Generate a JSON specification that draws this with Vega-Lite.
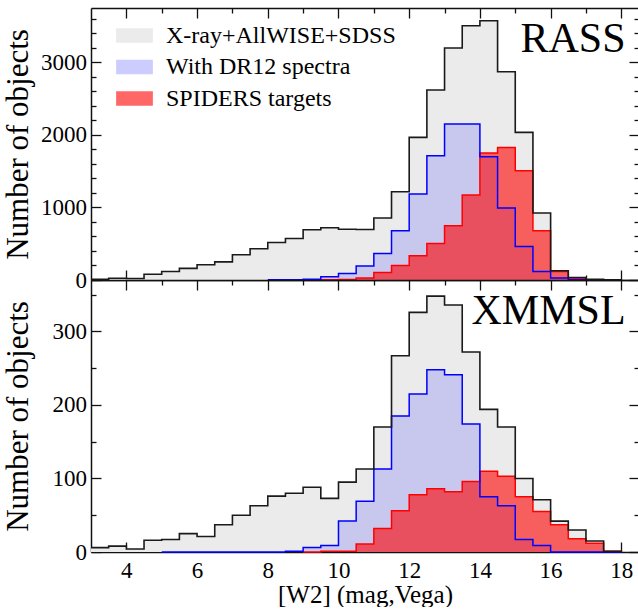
{
  "$schema": "https://vega.github.io/schema/vega-lite/v6.json",
  "padding": {"top": 7, "left": 2, "right": 0, "bottom": 0},
  "spacing": 0,
  "bounds": "flush",
  "config": {
    "font": "Liberation Serif",
    "view": {"stroke": null},
    "axis": {
      "grid": false,
      "domainColor": "#111111",
      "domainWidth": 1.5,
      "tickColor": "#111111",
      "tickWidth": 1.3,
      "labelFont": "Liberation Serif",
      "labelFontSize": 23,
      "labelColor": "black",
      "titleFont": "Liberation Serif",
      "titleFontSize": 25,
      "titleFontWeight": "normal",
      "titleColor": "black",
      "minExtent": 0,
      "format": "d"
    }
  },
  "resolve": {"scale": {"x": "independent", "y": "independent", "color": "independent"}},
  "datasets": {
    "rass": [
      {"series": "X-ray+AllWISE+SDSS", "w2": 3.0, "count": 10},
      {"series": "X-ray+AllWISE+SDSS", "w2": 3.5, "count": 25},
      {"series": "X-ray+AllWISE+SDSS", "w2": 4.0, "count": 20},
      {"series": "X-ray+AllWISE+SDSS", "w2": 4.5, "count": 80},
      {"series": "X-ray+AllWISE+SDSS", "w2": 5.0, "count": 117},
      {"series": "X-ray+AllWISE+SDSS", "w2": 5.5, "count": 160},
      {"series": "X-ray+AllWISE+SDSS", "w2": 6.0, "count": 210},
      {"series": "X-ray+AllWISE+SDSS", "w2": 6.5, "count": 250},
      {"series": "X-ray+AllWISE+SDSS", "w2": 7.0, "count": 348},
      {"series": "X-ray+AllWISE+SDSS", "w2": 7.5, "count": 430},
      {"series": "X-ray+AllWISE+SDSS", "w2": 8.0, "count": 517},
      {"series": "X-ray+AllWISE+SDSS", "w2": 8.5, "count": 573},
      {"series": "X-ray+AllWISE+SDSS", "w2": 9.0, "count": 692},
      {"series": "X-ray+AllWISE+SDSS", "w2": 9.5, "count": 720},
      {"series": "X-ray+AllWISE+SDSS", "w2": 10.0, "count": 700},
      {"series": "X-ray+AllWISE+SDSS", "w2": 10.5, "count": 697},
      {"series": "X-ray+AllWISE+SDSS", "w2": 11.0, "count": 854},
      {"series": "X-ray+AllWISE+SDSS", "w2": 11.5, "count": 1217},
      {"series": "X-ray+AllWISE+SDSS", "w2": 12.0, "count": 1966},
      {"series": "X-ray+AllWISE+SDSS", "w2": 12.5, "count": 2619},
      {"series": "X-ray+AllWISE+SDSS", "w2": 13.0, "count": 3199},
      {"series": "X-ray+AllWISE+SDSS", "w2": 13.5, "count": 3506},
      {"series": "X-ray+AllWISE+SDSS", "w2": 14.0, "count": 3575},
      {"series": "X-ray+AllWISE+SDSS", "w2": 14.5, "count": 2872},
      {"series": "X-ray+AllWISE+SDSS", "w2": 15.0, "count": 2035},
      {"series": "X-ray+AllWISE+SDSS", "w2": 15.5, "count": 923},
      {"series": "X-ray+AllWISE+SDSS", "w2": 16.0, "count": 127},
      {"series": "X-ray+AllWISE+SDSS", "w2": 16.5, "count": 35},
      {"series": "X-ray+AllWISE+SDSS", "w2": 17.0, "count": 8},
      {"series": "X-ray+AllWISE+SDSS", "w2": 17.5, "count": 2},
      {"series": "X-ray+AllWISE+SDSS", "w2": 18.0, "count": 0},
      {"series": "With DR12 spectra", "w2": 8.0, "count": 3},
      {"series": "With DR12 spectra", "w2": 8.5, "count": 5},
      {"series": "With DR12 spectra", "w2": 9.0, "count": 10},
      {"series": "With DR12 spectra", "w2": 9.5, "count": 44},
      {"series": "With DR12 spectra", "w2": 10.0, "count": 90},
      {"series": "With DR12 spectra", "w2": 10.5, "count": 192},
      {"series": "With DR12 spectra", "w2": 11.0, "count": 366},
      {"series": "With DR12 spectra", "w2": 11.5, "count": 679},
      {"series": "With DR12 spectra", "w2": 12.0, "count": 1185},
      {"series": "With DR12 spectra", "w2": 12.5, "count": 1713},
      {"series": "With DR12 spectra", "w2": 13.0, "count": 2150},
      {"series": "With DR12 spectra", "w2": 13.5, "count": 2150},
      {"series": "With DR12 spectra", "w2": 14.0, "count": 1700},
      {"series": "With DR12 spectra", "w2": 14.5, "count": 992},
      {"series": "With DR12 spectra", "w2": 15.0, "count": 462},
      {"series": "With DR12 spectra", "w2": 15.5, "count": 117},
      {"series": "With DR12 spectra", "w2": 16.0, "count": 26},
      {"series": "With DR12 spectra", "w2": 16.5, "count": 3},
      {"series": "With DR12 spectra", "w2": 17.0, "count": 0},
      {"series": "With DR12 spectra", "w2": 17.5, "count": 0},
      {"series": "With DR12 spectra", "w2": 18.0, "count": 0},
      {"series": "SPIDERS targets", "w2": 9.5, "count": 3},
      {"series": "SPIDERS targets", "w2": 10.0, "count": 8},
      {"series": "SPIDERS targets", "w2": 10.5, "count": 26},
      {"series": "SPIDERS targets", "w2": 11.0, "count": 104},
      {"series": "SPIDERS targets", "w2": 11.5, "count": 200},
      {"series": "SPIDERS targets", "w2": 12.0, "count": 334},
      {"series": "SPIDERS targets", "w2": 12.5, "count": 504},
      {"series": "SPIDERS targets", "w2": 13.0, "count": 748},
      {"series": "SPIDERS targets", "w2": 13.5, "count": 1171},
      {"series": "SPIDERS targets", "w2": 14.0, "count": 1750},
      {"series": "SPIDERS targets", "w2": 14.5, "count": 1828},
      {"series": "SPIDERS targets", "w2": 15.0, "count": 1506},
      {"series": "SPIDERS targets", "w2": 15.5, "count": 679},
      {"series": "SPIDERS targets", "w2": 16.0, "count": 117},
      {"series": "SPIDERS targets", "w2": 16.5, "count": 26},
      {"series": "SPIDERS targets", "w2": 17.0, "count": 3},
      {"series": "SPIDERS targets", "w2": 17.5, "count": 0},
      {"series": "SPIDERS targets", "w2": 18.0, "count": 0}
    ],
    "xmmsl": [
      {"series": "X-ray+AllWISE+SDSS", "w2": 3.0, "count": 6},
      {"series": "X-ray+AllWISE+SDSS", "w2": 3.5, "count": 8},
      {"series": "X-ray+AllWISE+SDSS", "w2": 4.0, "count": 4},
      {"series": "X-ray+AllWISE+SDSS", "w2": 4.5, "count": 16},
      {"series": "X-ray+AllWISE+SDSS", "w2": 5.0, "count": 17},
      {"series": "X-ray+AllWISE+SDSS", "w2": 5.5, "count": 25},
      {"series": "X-ray+AllWISE+SDSS", "w2": 6.0, "count": 21},
      {"series": "X-ray+AllWISE+SDSS", "w2": 6.5, "count": 37},
      {"series": "X-ray+AllWISE+SDSS", "w2": 7.0, "count": 50},
      {"series": "X-ray+AllWISE+SDSS", "w2": 7.5, "count": 63},
      {"series": "X-ray+AllWISE+SDSS", "w2": 8.0, "count": 76},
      {"series": "X-ray+AllWISE+SDSS", "w2": 8.5, "count": 80},
      {"series": "X-ray+AllWISE+SDSS", "w2": 9.0, "count": 88},
      {"series": "X-ray+AllWISE+SDSS", "w2": 9.5, "count": 73},
      {"series": "X-ray+AllWISE+SDSS", "w2": 10.0, "count": 95},
      {"series": "X-ray+AllWISE+SDSS", "w2": 10.5, "count": 113},
      {"series": "X-ray+AllWISE+SDSS", "w2": 11.0, "count": 170},
      {"series": "X-ray+AllWISE+SDSS", "w2": 11.5, "count": 267},
      {"series": "X-ray+AllWISE+SDSS", "w2": 12.0, "count": 326},
      {"series": "X-ray+AllWISE+SDSS", "w2": 12.5, "count": 348},
      {"series": "X-ray+AllWISE+SDSS", "w2": 13.0, "count": 336},
      {"series": "X-ray+AllWISE+SDSS", "w2": 13.5, "count": 272},
      {"series": "X-ray+AllWISE+SDSS", "w2": 14.0, "count": 194},
      {"series": "X-ray+AllWISE+SDSS", "w2": 14.5, "count": 170},
      {"series": "X-ray+AllWISE+SDSS", "w2": 15.0, "count": 100},
      {"series": "X-ray+AllWISE+SDSS", "w2": 15.5, "count": 71},
      {"series": "X-ray+AllWISE+SDSS", "w2": 16.0, "count": 42},
      {"series": "X-ray+AllWISE+SDSS", "w2": 16.5, "count": 30},
      {"series": "X-ray+AllWISE+SDSS", "w2": 17.0, "count": 15},
      {"series": "X-ray+AllWISE+SDSS", "w2": 17.5, "count": 1},
      {"series": "X-ray+AllWISE+SDSS", "w2": 18.0, "count": 0},
      {"series": "With DR12 spectra", "w2": 5.0, "count": 0},
      {"series": "With DR12 spectra", "w2": 5.5, "count": 0},
      {"series": "With DR12 spectra", "w2": 6.0, "count": 0},
      {"series": "With DR12 spectra", "w2": 6.5, "count": 0},
      {"series": "With DR12 spectra", "w2": 7.0, "count": 0},
      {"series": "With DR12 spectra", "w2": 7.5, "count": 0},
      {"series": "With DR12 spectra", "w2": 8.0, "count": 0},
      {"series": "With DR12 spectra", "w2": 8.5, "count": 1},
      {"series": "With DR12 spectra", "w2": 9.0, "count": 6},
      {"series": "With DR12 spectra", "w2": 9.5, "count": 9},
      {"series": "With DR12 spectra", "w2": 10.0, "count": 42},
      {"series": "With DR12 spectra", "w2": 10.5, "count": 69},
      {"series": "With DR12 spectra", "w2": 11.0, "count": 113},
      {"series": "With DR12 spectra", "w2": 11.5, "count": 185},
      {"series": "With DR12 spectra", "w2": 12.0, "count": 215},
      {"series": "With DR12 spectra", "w2": 12.5, "count": 248},
      {"series": "With DR12 spectra", "w2": 13.0, "count": 241},
      {"series": "With DR12 spectra", "w2": 13.5, "count": 174},
      {"series": "With DR12 spectra", "w2": 14.0, "count": 75},
      {"series": "With DR12 spectra", "w2": 14.5, "count": 63},
      {"series": "With DR12 spectra", "w2": 15.0, "count": 17},
      {"series": "With DR12 spectra", "w2": 15.5, "count": 9},
      {"series": "With DR12 spectra", "w2": 16.0, "count": 0},
      {"series": "With DR12 spectra", "w2": 16.5, "count": 0},
      {"series": "With DR12 spectra", "w2": 17.0, "count": 0},
      {"series": "With DR12 spectra", "w2": 17.5, "count": 0},
      {"series": "With DR12 spectra", "w2": 18.0, "count": 0},
      {"series": "SPIDERS targets", "w2": 9.0, "count": 0},
      {"series": "SPIDERS targets", "w2": 9.5, "count": 1},
      {"series": "SPIDERS targets", "w2": 10.0, "count": 1},
      {"series": "SPIDERS targets", "w2": 10.5, "count": 11},
      {"series": "SPIDERS targets", "w2": 11.0, "count": 32},
      {"series": "SPIDERS targets", "w2": 11.5, "count": 56},
      {"series": "SPIDERS targets", "w2": 12.0, "count": 78},
      {"series": "SPIDERS targets", "w2": 12.5, "count": 86},
      {"series": "SPIDERS targets", "w2": 13.0, "count": 82},
      {"series": "SPIDERS targets", "w2": 13.5, "count": 96},
      {"series": "SPIDERS targets", "w2": 14.0, "count": 110},
      {"series": "SPIDERS targets", "w2": 14.5, "count": 103},
      {"series": "SPIDERS targets", "w2": 15.0, "count": 75},
      {"series": "SPIDERS targets", "w2": 15.5, "count": 55},
      {"series": "SPIDERS targets", "w2": 16.0, "count": 37},
      {"series": "SPIDERS targets", "w2": 16.5, "count": 18},
      {"series": "SPIDERS targets", "w2": 17.0, "count": 12},
      {"series": "SPIDERS targets", "w2": 17.5, "count": 1},
      {"series": "SPIDERS targets", "w2": 18.0, "count": 0}
    ]
  },
  "vconcat": [
    {
      "width": 548,
      "height": 272,
      "resolve": {"axis": {"x": "independent", "y": "independent"}},
      "layer": [
        {
          "data": {"name": "rass"},
          "transform": [{"filter": "datum.series === 'X-ray+AllWISE+SDSS'"}],
          "mark": {"type": "area", "interpolate": "step-after"},
          "encoding": {
            "x": {"field": "w2", "type": "quantitative", "scale": {"domain": [3, 18.5], "nice": false, "zero": false},
                  "axis": {"orient": "bottom", "values": [4, 6, 8, 10, 12, 14, 16, 18], "labels": false, "title": null, "tickSize": -10}},
            "y": {"field": "count", "type": "quantitative", "scale": {"domain": [0, 3750], "nice": false},
                  "axis": {"orient": "left", "values": [0, 1000, 2000, 3000], "tickSize": -10, "labelPadding": 14.5, "title": "Number of objects", "titleFontSize": 31, "titlePadding": 6}},
            "color": {"field": "series", "type": "nominal",
                      "scale": {"domain": ["X-ray+AllWISE+SDSS", "With DR12 spectra", "SPIDERS targets"], "range": ["#ebebeb", "#0000ff", "#ff0000"]},
                      "legend": {"orient": "none", "legendX": 25, "legendY": 9, "title": null,
                                 "labelFont": "Liberation Serif", "labelFontSize": 24, "labelColor": "black", "labelLimit": 0,
                                 "symbolType": "M-1,-0.4H1V0.4H-1Z", "symbolSize": 1350, "symbolStrokeWidth": 0,
                                 "labelOffset": 13, "rowPadding": 0.5,
                                 "encode": {"symbols": {"update": {"fillOpacity": {"signal": "datum.value === 'With DR12 spectra' ? 0.2 : (datum.value === 'SPIDERS targets' ? 0.6 : 1)"}, "opacity": {"value": 1}, "strokeWidth": {"value": 0}}}}}}
          }
        },
        {
          "data": {"name": "rass"},
          "transform": [{"filter": "datum.series === 'With DR12 spectra'"}],
          "mark": {"type": "area", "interpolate": "step-after", "fillOpacity": 0.15},
          "encoding": {
            "x": {"field": "w2", "type": "quantitative", "axis": {"orient": "top", "values": [4, 6, 8, 10, 12, 14, 16, 18], "labels": false, "title": null, "tickSize": -10}},
            "y": {"field": "count", "type": "quantitative", "axis": {"orient": "right", "values": [0, 1000, 2000, 3000], "labels": false, "title": null, "tickSize": -10}},
            "color": {"field": "series", "type": "nominal"}
          }
        },
        {
          "data": {"name": "rass"},
          "transform": [{"filter": "datum.series === 'SPIDERS targets'"}],
          "mark": {"type": "area", "interpolate": "step-after", "fillOpacity": 0.6},
          "encoding": {
            "x": {"field": "w2", "type": "quantitative", "axis": {"orient": "bottom", "values": [5, 7, 9, 11, 13, 15, 17], "labels": false, "title": null, "tickSize": -5, "domain": false}},
            "y": {"field": "count", "type": "quantitative", "axis": {"orient": "left", "values": [200, 400, 600, 800, 1200, 1400, 1600, 1800, 2200, 2400, 2600, 2800, 3200, 3400, 3600], "labels": false, "title": null, "tickSize": -5, "domain": false}},
            "color": {"field": "series", "type": "nominal"}
          }
        },
        {
          "data": {"name": "rass"},
          "transform": [{"filter": "datum.series === 'SPIDERS targets'"}],
          "mark": {"type": "line", "interpolate": "step-after", "color": "#ff0000", "strokeWidth": 1.5},
          "encoding": {
            "x": {"field": "w2", "type": "quantitative", "axis": {"orient": "top", "values": [5, 7, 9, 11, 13, 15, 17], "labels": false, "title": null, "tickSize": -5, "domain": false}},
            "y": {"field": "count", "type": "quantitative", "axis": {"orient": "right", "values": [200, 400, 600, 800, 1200, 1400, 1600, 1800, 2200, 2400, 2600, 2800, 3200, 3400, 3600], "labels": false, "title": null, "tickSize": -5, "domain": false}}
          }
        },
        {
          "data": {"name": "rass"},
          "transform": [{"filter": "datum.series === 'With DR12 spectra'"}],
          "mark": {"type": "line", "interpolate": "step-after", "color": "#0000ff", "strokeWidth": 1.5},
          "encoding": {
            "x": {"field": "w2", "type": "quantitative", "axis": null},
            "y": {"field": "count", "type": "quantitative", "axis": null}
          }
        },
        {
          "data": {"name": "rass"},
          "transform": [{"filter": "datum.series === 'X-ray+AllWISE+SDSS'"}],
          "mark": {"type": "line", "interpolate": "step-after", "color": "#1a1a1a", "strokeWidth": 1.6},
          "encoding": {
            "x": {"field": "w2", "type": "quantitative", "axis": null},
            "y": {"field": "count", "type": "quantitative", "axis": null}
          }
        },
        {
          "data": {"values": [{"label": "RASS"}]},
          "mark": {"type": "text", "align": "right", "baseline": "alphabetic", "fontSize": 42, "font": "Liberation Serif", "color": "black"},
          "encoding": {
            "x": {"datum": 18.12, "type": "quantitative", "axis": null},
            "y": {"datum": 3140, "type": "quantitative", "axis": null},
            "text": {"field": "label"}
          }
        }
      ]
    },
    {
      "width": 548,
      "height": 272,
      "resolve": {"axis": {"x": "independent", "y": "independent"}},
      "layer": [
        {
          "data": {"name": "xmmsl"},
          "transform": [{"filter": "datum.series === 'X-ray+AllWISE+SDSS'"}],
          "mark": {"type": "area", "interpolate": "step-after", "color": "#ebebeb"},
          "encoding": {
            "x": {"field": "w2", "type": "quantitative", "scale": {"domain": [3, 18.5], "nice": false, "zero": false},
                  "axis": {"orient": "bottom", "values": [4, 6, 8, 10, 12, 14, 16, 18], "tickSize": -10, "labelPadding": 17, "title": "[W2] (mag,Vega)", "titlePadding": 0}},
            "y": {"field": "count", "type": "quantitative", "scale": {"domain": [0, 370], "nice": false},
                  "axis": {"orient": "left", "values": [0, 100, 200, 300], "tickSize": -10, "labelPadding": 14.5, "title": "Number of objects", "titleFontSize": 31, "titlePadding": 17.5}}
          }
        },
        {
          "data": {"name": "xmmsl"},
          "transform": [{"filter": "datum.series === 'With DR12 spectra'"}],
          "mark": {"type": "area", "interpolate": "step-after", "color": "#0000ff", "fillOpacity": 0.15},
          "encoding": {
            "x": {"field": "w2", "type": "quantitative", "axis": {"orient": "top", "values": [4, 6, 8, 10, 12, 14, 16, 18], "labels": false, "title": null, "tickSize": -10}},
            "y": {"field": "count", "type": "quantitative", "axis": {"orient": "right", "values": [0, 100, 200, 300], "labels": false, "title": null, "tickSize": -10}}
          }
        },
        {
          "data": {"name": "xmmsl"},
          "transform": [{"filter": "datum.series === 'SPIDERS targets'"}],
          "mark": {"type": "area", "interpolate": "step-after", "color": "#ff0000", "fillOpacity": 0.6},
          "encoding": {
            "x": {"field": "w2", "type": "quantitative", "axis": {"orient": "bottom", "values": [5, 7, 9, 11, 13, 15, 17], "labels": false, "title": null, "tickSize": -5, "domain": false}},
            "y": {"field": "count", "type": "quantitative", "axis": {"orient": "left", "values": [50, 150, 250, 350], "labels": false, "title": null, "tickSize": -5, "domain": false}}
          }
        },
        {
          "data": {"name": "xmmsl"},
          "transform": [{"filter": "datum.series === 'SPIDERS targets'"}],
          "mark": {"type": "line", "interpolate": "step-after", "color": "#ff0000", "strokeWidth": 1.5},
          "encoding": {
            "x": {"field": "w2", "type": "quantitative", "axis": {"orient": "top", "values": [5, 7, 9, 11, 13, 15, 17], "labels": false, "title": null, "tickSize": -5, "domain": false}},
            "y": {"field": "count", "type": "quantitative", "axis": {"orient": "right", "values": [50, 150, 250, 350], "labels": false, "title": null, "tickSize": -5, "domain": false}}
          }
        },
        {
          "data": {"name": "xmmsl"},
          "transform": [{"filter": "datum.series === 'With DR12 spectra'"}],
          "mark": {"type": "line", "interpolate": "step-after", "color": "#0000ff", "strokeWidth": 1.5},
          "encoding": {
            "x": {"field": "w2", "type": "quantitative", "axis": null},
            "y": {"field": "count", "type": "quantitative", "axis": null}
          }
        },
        {
          "data": {"name": "xmmsl"},
          "transform": [{"filter": "datum.series === 'X-ray+AllWISE+SDSS'"}],
          "mark": {"type": "line", "interpolate": "step-after", "color": "#1a1a1a", "strokeWidth": 1.6},
          "encoding": {
            "x": {"field": "w2", "type": "quantitative", "axis": null},
            "y": {"field": "count", "type": "quantitative", "axis": null}
          }
        },
        {
          "data": {"values": [{"label": "XMMSL"}]},
          "mark": {"type": "text", "align": "right", "baseline": "alphabetic", "fontSize": 42, "font": "Liberation Serif", "color": "black"},
          "encoding": {
            "x": {"datum": 18.12, "type": "quantitative", "axis": null},
            "y": {"datum": 310, "type": "quantitative", "axis": null},
            "text": {"field": "label"}
          }
        }
      ]
    }
  ]
}
